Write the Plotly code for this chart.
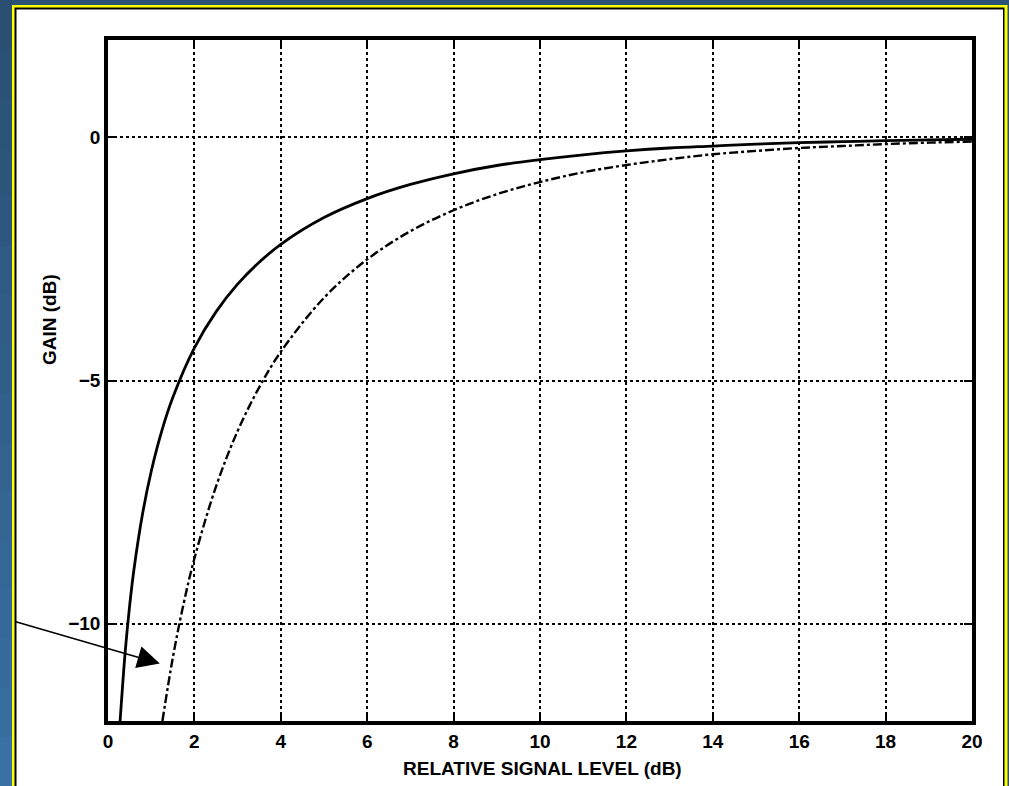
import plotly.graph_objects as go

# ---- data ----
solid_x = [0.28, 0.4, 0.5, 0.6, 0.8, 1.0, 1.25, 1.5, 2, 2.5, 3, 3.5, 4, 5, 6, 7, 8, 9, 10,
           11, 12, 13, 14, 15, 16, 17, 18, 19, 20]
solid_y = [-12.0, -10.56, -9.64, -8.89, -7.74, -6.87, -6.02, -5.35, -4.33, -3.59, -3.02, -2.57,
           -2.20, -1.65, -1.26, -0.97, -0.75, -0.58, -0.46, -0.36, -0.28, -0.22, -0.18, -0.14,
           -0.11, -0.09, -0.07, -0.055, -0.04]

dash_x = [1.26, 1.5, 1.75, 2, 2.5, 3, 3.5, 4, 5, 6, 7, 8, 9, 10, 11, 12, 13, 14, 15, 16, 17,
          18, 19, 20]
dash_y = [-12.0, -10.7, -9.59, -8.66, -7.18, -6.04, -5.14, -4.41, -3.30, -2.51, -1.93, -1.50,
          -1.17, -0.92, -0.72, -0.57, -0.45, -0.35, -0.28, -0.22, -0.18, -0.14, -0.11, -0.09]

x_ticks = [0, 2, 4, 6, 8, 10, 12, 14, 16, 18, 20]
y_ticks = [-10, -5, 0]
y_ticklabels = ["\u221210", "\u22125", "0"]

x_title = "RELATIVE SIGNAL LEVEL (dB)"
y_title = "GAIN (dB)"

# ---- layout geometry (pixels) ----
W, H = 1009, 786
L, R, T, B = 108, 972, 40, 721
pw, ph = R - L, B - T


def px(x):
    return (x - L) / pw


def py(y):
    return (B - y) / ph


FONT = "Liberation Sans, Arial, sans-serif"

fig = go.Figure()
fig.add_trace(go.Scatter(x=solid_x, y=solid_y, mode="lines", line=dict(color="black", width=2.8, shape="spline"),
                         showlegend=False, hoverinfo="skip"))
fig.add_trace(go.Scatter(x=dash_x, y=dash_y, mode="lines", line=dict(color="black", width=2.4, dash="dashdot", shape="spline"),
                         showlegend=False, hoverinfo="skip"))

shapes = []
# blue gradient-ish left strip
top_c = (0x2a, 0x4f, 0x73)
bot_c = (0x3a, 0x70, 0xa3)
n = 16
for i in range(n):
    t = i / (n - 1)
    c = tuple(int(top_c[k] + (bot_c[k] - top_c[k]) * t) for k in range(3))
    y0 = i * H / n
    y1 = (i + 1) * H / n + 1
    shapes.append(dict(type="rect", xref="paper", yref="paper", layer="below",
                       x0=px(-5), x1=px(12.5), y0=py(y1), y1=py(y0),
                       fillcolor="rgb(%d,%d,%d)" % c, line=dict(width=0)))
# panel: yellow, black, white
shapes.append(dict(type="rect", xref="paper", yref="paper", layer="below",
                   x0=px(12), x1=px(1007.5), y0=py(800), y1=py(5),
                   fillcolor="#ffff00", line=dict(width=0)))
shapes.append(dict(type="rect", xref="paper", yref="paper", layer="below",
                   x0=px(14.5), x1=px(1004.5), y0=py(800), y1=py(7.5),
                   fillcolor="#000000", line=dict(width=0)))
shapes.append(dict(type="rect", xref="paper", yref="paper", layer="below",
                   x0=px(16.5), x1=px(1003), y0=py(800), y1=py(9.5),
                   fillcolor="#ffffff", line=dict(width=0)))

fig.update_layout(
    width=W, height=H,
    margin=dict(l=L, r=W - R, t=T, b=H - B),
    paper_bgcolor="#2b5378",
    plot_bgcolor="rgba(0,0,0,0)",
    shapes=shapes,
    showlegend=False,
    font=dict(family=FONT, color="black"),
    xaxis=dict(range=[0, 20], tickvals=x_ticks, ticks="inside", ticklen=6, tickwidth=2,
               tickcolor="black", showline=True, linecolor="black", linewidth=3.5, mirror="ticks",
               showgrid=True, gridcolor="black", griddash="dot", gridwidth=1.8, zeroline=False,
               tickfont=dict(family=FONT, size=19, weight="bold")),
    yaxis=dict(range=[-12, 2], tickvals=y_ticks, ticktext=y_ticklabels, ticks="inside", ticklen=8,
               tickwidth=2, tickcolor="black", showline=True, linecolor="black", linewidth=3.5,
               mirror="ticks", showgrid=True, gridcolor="black", griddash="dot", gridwidth=1.8,
               zeroline=False, tickfont=dict(family=FONT, size=19, weight="bold")),
    annotations=[
        dict(x=1.2, y=-10.82, ax=-2.17, ay=-9.95, xref="x", yref="y", axref="x", ayref="y",
             text="", showarrow=True, arrowhead=2, arrowsize=2.8, arrowwidth=1.6,
             arrowcolor="black", standoff=0),
        dict(x=px(542), y=py(768), xref="paper", yref="paper", text=x_title, showarrow=False,
             xanchor="center", yanchor="middle",
             font=dict(family=FONT, size=19, weight="bold", color="black")),
        dict(x=px(49), y=py(320), xref="paper", yref="paper", text=y_title, showarrow=False,
             textangle=-90, xanchor="center", yanchor="middle",
             font=dict(family=FONT, size=19, weight="bold", color="black")),
    ],
)

fig.write_html("out.html")
